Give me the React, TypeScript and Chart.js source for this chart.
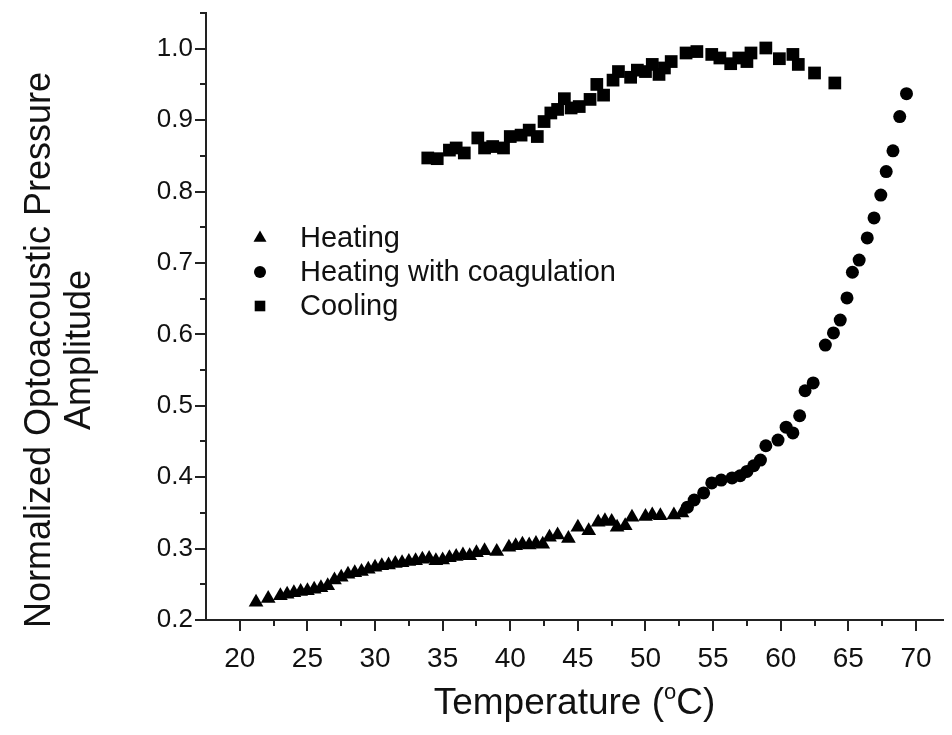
import { useEffect, useRef } from 'react';
import { Chart, registerables } from 'chart.js';

Chart.register(...registerables);

// ---- Data ----
const heatingT = [21.2, 22.1, 23.0, 23.5, 24.0, 24.5, 25.0, 25.5, 26.0, 26.5, 27.0, 27.5, 28.0, 28.5, 29.0, 29.5, 30.0, 30.5, 31.0, 31.5, 32.0, 32.5, 33.0, 33.5, 34.0, 34.5, 35.0, 35.5, 36.0, 36.5, 37.0, 37.5, 38.1, 39.0, 39.9, 40.4, 40.9, 41.4, 41.9, 42.4, 42.9, 43.5, 44.3, 45.0, 45.8, 46.5, 47.0, 47.5, 47.9, 48.5, 49.0, 50.0, 50.5, 51.1, 52.1, 52.7];
const heatingV = [0.225, 0.230, 0.234, 0.236, 0.238, 0.240, 0.241, 0.243, 0.245, 0.248, 0.256, 0.260, 0.264, 0.266, 0.268, 0.271, 0.274, 0.276, 0.277, 0.279, 0.280, 0.282, 0.283, 0.285, 0.286, 0.283, 0.284, 0.287, 0.289, 0.291, 0.290, 0.294, 0.297, 0.296, 0.302, 0.304, 0.306, 0.305, 0.307, 0.306, 0.316, 0.319, 0.314, 0.330, 0.325, 0.337, 0.339, 0.338, 0.330, 0.332, 0.344, 0.345, 0.347, 0.346, 0.347, 0.350];

const coagT = [53.1, 53.6, 54.3, 54.9, 55.6, 56.4, 57.0, 57.5, 58.0, 58.5, 58.9, 59.8, 60.4, 60.9, 61.4, 61.8, 62.4, 63.3, 63.9, 64.4, 64.9, 65.3, 65.8, 66.4, 66.9, 67.4, 67.8, 68.3, 68.8, 69.3];
const coagV = [0.358, 0.368, 0.378, 0.392, 0.396, 0.399, 0.402, 0.408, 0.416, 0.424, 0.444, 0.452, 0.470, 0.462, 0.486, 0.521, 0.532, 0.585, 0.602, 0.620, 0.651, 0.687, 0.704, 0.735, 0.763, 0.795, 0.828, 0.857, 0.905, 0.937];

const coolT = [33.9, 34.6, 35.5, 36.0, 36.6, 37.6, 38.1, 38.7, 39.5, 40.0, 40.8, 41.4, 42.0, 42.5, 43.0, 43.5, 44.0, 44.5, 45.1, 45.9, 46.4, 46.9, 47.6, 48.0, 48.9, 49.4, 50.0, 50.5, 51.0, 51.4, 51.9, 53.0, 53.8, 54.9, 55.5, 56.3, 56.9, 57.5, 57.8, 58.9, 59.9, 60.9, 61.3, 62.5, 64.0];
const coolV = [0.847, 0.846, 0.858, 0.861, 0.854, 0.875, 0.861, 0.863, 0.861, 0.877, 0.879, 0.886, 0.877, 0.898, 0.910, 0.915, 0.930, 0.917, 0.919, 0.929, 0.950, 0.935, 0.956, 0.968, 0.960, 0.970, 0.968, 0.978, 0.964, 0.973, 0.982, 0.994, 0.996, 0.992, 0.987, 0.979, 0.987, 0.982, 0.994, 1.001, 0.986, 0.992, 0.978, 0.966, 0.952];

const seriesLabels = ['Heating', 'Heating with coagulation', 'Cooling'];
const xMajorTicks = [20, 25, 30, 35, 40, 45, 50, 55, 60, 65, 70];
const xMinorTicks = [22.5, 27.5, 32.5, 37.5, 42.5, 47.5, 52.5, 57.5, 62.5, 67.5];
const yMajorTicks = [0.2, 0.3, 0.4, 0.5, 0.6, 0.7, 0.8, 0.9, 1.0];
const yMinorTicks = [0.25, 0.35, 0.45, 0.55, 0.65, 0.75, 0.85, 0.95, 1.05];
const xTitleMain = 'Temperature (';
const xTitleSup = 'o';
const xTitleEnd = 'C)';
const yTitle = ['Normalized Optoacoustic Pressure', 'Amplitude'];

const FONT = "'Liberation Sans', Arial, Helvetica, sans-serif";
const INK = '#111';
const AXIS = '#222';

function drawMarker(ctx: CanvasRenderingContext2D, style: string, x: number, y: number, r: number) {
  ctx.beginPath();
  if (style === 'triangle') {
    ctx.moveTo(x, y - r);
    ctx.lineTo(x + Math.sin(Math.PI * 2 / 3) * r, y + r / 2);
    ctx.lineTo(x - Math.sin(Math.PI * 2 / 3) * r, y + r / 2);
    ctx.closePath();
  } else if (style === 'circle') {
    ctx.arc(x, y, r, 0, Math.PI * 2);
  } else {
    const s = Math.SQRT1_2 * r;
    ctx.rect(x - s, y - s, 2 * s, 2 * s);
  }
  ctx.fill();
}

export default function App() {
  const ref = useRef<HTMLCanvasElement>(null);

  useEffect(() => {
    if (!ref.current) return;
    const pts = (xs: number[], ys: number[]) => xs.map((x, i) => ({ x, y: ys[i] }));

    const ticksPlugin = {
      id: 'minorMajorTicks',
      afterDraw(chart: any) {
        const { ctx, scales } = chart;
        const xs = scales.x, ys = scales.y;
        const base = ys.getPixelForValue(0.2);
        const left = xs.getPixelForValue(17.5);
        ctx.save();
        ctx.strokeStyle = AXIS;
        ctx.lineWidth = 2;
        ctx.beginPath();
        xMajorTicks.forEach((v) => { const p = Math.round(xs.getPixelForValue(v)); ctx.moveTo(p, base); ctx.lineTo(p, base + 11); });
        xMinorTicks.forEach((v) => { const p = Math.round(xs.getPixelForValue(v)); ctx.moveTo(p, base); ctx.lineTo(p, base + 6); });
        yMajorTicks.forEach((v) => { const p = Math.round(ys.getPixelForValue(v)); ctx.moveTo(left, p); ctx.lineTo(left - 11, p); });
        yMinorTicks.forEach((v) => { const p = Math.round(ys.getPixelForValue(v)); ctx.moveTo(left, p); ctx.lineTo(left - 6, p); });
        ctx.stroke();
        ctx.restore();
      },
    };

    const legendPlugin = {
      id: 'innerLegend',
      afterDraw(chart: any) {
        const { ctx } = chart;
        ctx.save();
        const styles = ['triangle', 'circle', 'rect'];
        const radii = [7.5, 6, 7.5];
        const rows = [238, 272, 306];
        styles.forEach((s, i) => {
          ctx.fillStyle = '#000';
          drawMarker(ctx, s, 260, rows[i], radii[i]);
          ctx.fillStyle = INK;
          ctx.font = `29px ${FONT}`;
          ctx.textBaseline = 'middle';
          ctx.textAlign = 'left';
          ctx.fillText(seriesLabels[i], 300, rows[i] + 1);
        });
        ctx.restore();
      },
    };

    const titlesPlugin = {
      id: 'axisTitles',
      afterDraw(chart: any) {
        const { ctx } = chart;
        ctx.save();
        ctx.fillStyle = INK;
        // y title (two lines, rotated)
        ctx.font = `36px ${FONT}`;
        ctx.textAlign = 'center';
        ctx.textBaseline = 'middle';
        const xs = [40, 80];
        yTitle.forEach((t, i) => {
          ctx.save();
          ctx.translate(xs[i], 350);
          ctx.rotate(-Math.PI / 2);
          ctx.fillText(t, 0, 0);
          ctx.restore();
        });
        // x title with superscript "o"
        const big = `37px ${FONT}`;
        const small = `22px ${FONT}`;
        ctx.textAlign = 'left';
        ctx.textBaseline = 'alphabetic';
        ctx.font = big;
        const w1 = ctx.measureText(xTitleMain).width;
        const w3 = ctx.measureText(xTitleEnd).width;
        ctx.font = small;
        const w2 = ctx.measureText(xTitleSup).width;
        const total = w1 + w2 + w3;
        const cx = (chart.chartArea.left + chart.chartArea.right) / 2;
        let x = cx - total / 2;
        const baseY = 714;
        ctx.font = big;
        ctx.fillText(xTitleMain, x, baseY);
        x += w1;
        ctx.font = small;
        ctx.fillText(xTitleSup, x, baseY - 15);
        x += w2;
        ctx.font = big;
        ctx.fillText(xTitleEnd, x, baseY);
        ctx.restore();
      },
    };

    const chart = new Chart(ref.current, {
      type: 'scatter',
      data: {
        datasets: [
          { label: seriesLabels[0], data: pts(heatingT, heatingV), pointStyle: 'triangle', pointRadius: 8.5, backgroundColor: '#000', borderColor: '#000', borderWidth: 0 },
          { label: seriesLabels[1], data: pts(coagT, coagV), pointStyle: 'circle', pointRadius: 6.5, backgroundColor: '#000', borderColor: '#000', borderWidth: 0 },
          { label: seriesLabels[2], data: pts(coolT, coolV), pointStyle: 'rect', pointRadius: 9, backgroundColor: '#000', borderColor: '#000', borderWidth: 0 },
        ],
      },
      options: {
        responsive: false,
        animation: false,
        events: [],
        layout: { padding: { top: 13, left: 0, right: 0, bottom: 0 } },
        plugins: { legend: { display: false }, tooltip: { enabled: false }, title: { display: false } },
        scales: {
          x: {
            type: 'linear',
            min: 17.5,
            max: 72,
            grid: { display: false },
            border: { display: true, color: AXIS, width: 2 },
            afterBuildTicks: (s: any) => { s.ticks = xMajorTicks.map((v) => ({ value: v })); },
            afterFit: (s: any) => { s.height = 115; s.paddingLeft = 0; s.paddingRight = 0; },
            ticks: { padding: 14, color: INK, font: { family: FONT, size: 28 }, maxRotation: 0, autoSkip: false, callback: (v: any) => String(v) },
            title: { display: false },
          },
          y: {
            type: 'linear',
            min: 0.2,
            max: 1.05,
            grid: { display: false },
            border: { display: true, color: AXIS, width: 2 },
            afterBuildTicks: (s: any) => { s.ticks = yMajorTicks.map((v) => ({ value: v })); },
            afterFit: (s: any) => { s.width = 206; s.paddingTop = 0; s.paddingBottom = 0; },
            ticks: { padding: 5, color: INK, font: { family: FONT, size: 26 }, autoSkip: false, callback: (v: any) => Number(v).toFixed(1) },
          },
        },
      } as any,
      plugins: [ticksPlugin, legendPlugin, titlesPlugin],
    });
    return () => chart.destroy();
  }, []);

  return (
    <div style={{ position: 'absolute', left: 0, top: 0, width: 952, height: 735, background: '#fff' }}>
      <canvas ref={ref} width={952} height={735} style={{ display: 'block' }} />
    </div>
  );
}
